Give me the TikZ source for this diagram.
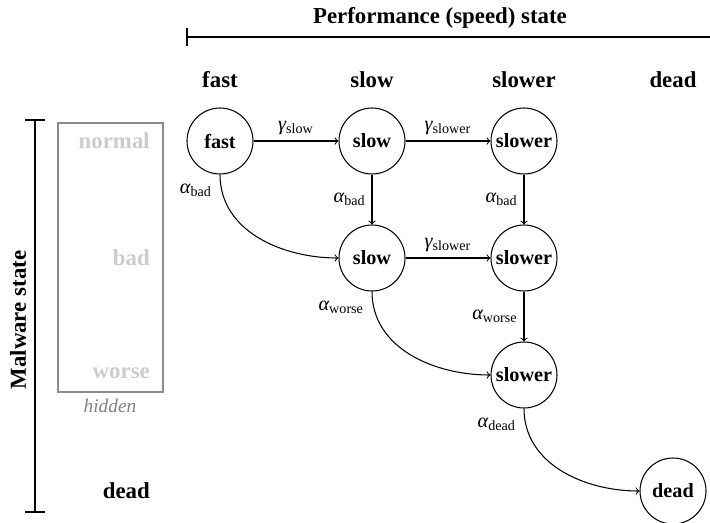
\documentclass[tikz,border=0pt]{standalone}
\usepackage{fontspec}
\setmainfont{Liberation Serif}
\usetikzlibrary{positioning}
\newcommand{\rate}[2]{{\itshape #1}\textsubscript{#2}}
\begin{document}
\begin{tikzpicture}
      \tikzset{state/.style={draw, circle, semithick, inner sep=0pt, minimum size=1.32cm, font=\fontsize{11.5}{13}\selectfont\bfseries},
               heading/.style={font=\fontsize{13}{15}\selectfont\bfseries},
               hiddenlbl/.style={heading, text=black!20, anchor=east},
               trans/.style={->, semithick},
               rlabel/.style={font=\fontsize{11.5}{13}\selectfont}}
      \useasboundingbox (0,0) rectangle (14.2,-10.44);
%% Axes
	%performance
	\node[heading] (perf) at (8.8,-0.36) {Performance (speed) state};
	\coordinate (pl) at (3.74,-0.74);
	\coordinate (pr) at (14.2,-0.74);
	\draw[line width=1.5pt] (pl) -- (pr);
	\draw[line width=1.5pt] ([yshift=0.18cm]pl) -- ([yshift=-0.18cm]pl);
	%malware
	\coordinate (mt) at (0.7,-2.4);
	\coordinate (mb) at (0.7,-10.24);
	\draw[line width=1.5pt] (mt) -- (mb);
	\draw[line width=1.5pt] ([xshift=-0.2cm]mt) -- ([xshift=0.2cm]mt);
	\draw[line width=1.5pt] ([xshift=-0.2cm]mb) -- ([xshift=0.2cm]mb);
	\node[heading, rotate=90] (mal) at (0.36,-6.4) {Malware state};
%% Headings
	\node[heading] (hfast) at (4.4,-1.6) {fast};
	\node[heading] (hslow) at (7.44,-1.6) {slow};
	\node[heading] (hslower) at (10.48,-1.6) {slower};
	\node[heading] (hdead) at (13.46,-1.6) {dead};
	\draw[black!45, line width=1.2pt] (1.16,-2.46) rectangle (3.26,-7.84);
	\node[hiddenlbl] (mnormal) at (3.12,-2.82) {normal};
	\node[hiddenlbl] (mbad) at (3.12,-5.16) {bad};
	\node[hiddenlbl] (mworse) at (3.12,-7.46) {worse};
	\node[text=black!50, font=\fontsize{11}{13}\selectfont\itshape] (hid) at (2.2,-8.12) {hidden};
	\node[heading, anchor=east] (mdead) at (3.12,-9.82) {dead};
%% Vertices
      	\node[state] (f1) at (4.4,-2.82) {fast};
     	\node[state] (s1) at (7.44,-2.82) {slow};
     	\node[state] (w1) at (10.48,-2.82) {slower};
     	\node[state] (s2) at (7.44,-5.16) {slow};
     	\node[state] (w2) at (10.48,-5.16) {slower};
     	\node[state] (w3) at (10.48,-7.5) {slower};
     	\node[state] (d) at (13.46,-9.82) {dead};
%Edges
		\path [trans] (f1) edge node[rlabel, midway, above] {\rate{γ}{slow}} (s1);
		\path [trans] (s1) edge node[rlabel, midway, above] {\rate{γ}{slower}} (w1);
		\path [trans] (s2) edge node[rlabel, midway, above] {\rate{γ}{slower}} (w2);
		\path [trans] (s1) edge node[rlabel, midway, left] {\rate{α}{bad}} (s2);
		\path [trans] (w1) edge node[rlabel, midway, left] {\rate{α}{bad}} (w2);
		\path [trans] (w2) edge node[rlabel, midway, left] {\rate{α}{worse}} (w3);
		\path [trans] (f1.south) edge[out=-90, in=180] node[rlabel, pos=0.1, left=2pt] {\rate{α}{bad}} (s2.west);
		\path [trans] (s2.south) edge[out=-90, in=180] node[rlabel, pos=0.1, left=2pt] {\rate{α}{worse}} (w3.west);
		\path [trans] (w3.south) edge[out=-90, in=180] node[rlabel, pos=0.1, left=2pt] {\rate{α}{dead}} (d.west);

\end{tikzpicture}
\end{document}
